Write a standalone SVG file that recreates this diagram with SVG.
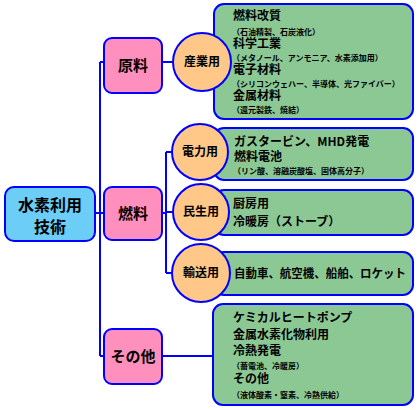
<svg xmlns="http://www.w3.org/2000/svg" width="419" height="410" viewBox="0 0 419 410">
<style>
.ln{stroke:#0000FF;stroke-width:2;fill:none}
.main{fill:#6CCDF7;stroke:#0000FF;stroke-width:2}
.cat{fill:#FF8FBC;stroke:#0000FF;stroke-width:2}
.cir{fill:#FFC788;stroke:#0000FF;stroke-width:2}
.box{fill:#8CC893;stroke:#0000FF;stroke-width:2}
text{font-family:"Noto Sans CJK JP","Noto Sans CJK SC",sans-serif;fill:#000;font-weight:bold}
.big{font-size:16px;text-anchor:middle}
.cl{font-size:15px;text-anchor:middle}
.cc{font-size:12px;text-anchor:middle}
.t{font-size:12px}
.s{font-size:8px}
</style>
<g id="connectors">
<path class="ln" d="M95,213H100M100,62V356M100,62H104M100,213H104M100,356H104"/>
<path class="ln" d="M162,62H173"/>
<path class="ln" d="M162,213H166M166,152V273M166,152H172M166,212H172M166,273H172"/>
<path class="ln" d="M162,356H213"/>
</g>
<g id="box-sangyo"><rect class="box" x="214" y="4" width="199" height="115" rx="10"/>
<text class="t" x="233" y="20">燃料改質</text>
<text class="s" x="232" y="35">（石油精製、石炭液化）</text>
<text class="t" x="233" y="48">科学工業</text>
<text class="s" x="232" y="61">（メタノール、アンモニア、水素添加用）</text>
<text class="t" x="233" y="74">電子材料</text>
<text class="s" x="232" y="87">（シリコンウェハー、半導体、光ファイバー）</text>
<text class="t" x="233" y="100">金属材料</text>
<text class="s" x="232" y="113">（還元製鉄、焼結）</text>
</g>
<g id="box-denryoku"><rect class="box" x="214" y="128" width="199" height="52" rx="10"/>
<text class="t" x="234" y="146">ガスタービン、MHD発電</text>
<text class="t" x="234" y="161">燃料電池</text>
<text class="s" x="233" y="174">（リン酸、溶融炭酸塩、固体高分子）</text>
</g>
<g id="box-minsei"><rect class="box" x="214" y="190" width="199" height="45" rx="10"/>
<text class="t" x="233" y="208">厨房用</text>
<text class="t" x="233" y="226">冷暖房（ストーブ）</text>
</g>
<g id="box-yuso"><rect class="box" x="214" y="252" width="199" height="43" rx="10"/>
<text class="t" x="234" y="278" textLength="172" lengthAdjust="spacingAndGlyphs">自動車、航空機、船舶、ロケット</text>
</g>
<g id="box-sonota"><rect class="box" x="213" y="304" width="200" height="101" rx="10"/>
<text class="t" x="233" y="322">ケミカルヒートポンプ</text>
<text class="t" x="233" y="339">金属水素化物利用</text>
<text class="t" x="233" y="355">冷熱発電</text>
<text class="s" x="232" y="369">（蓄電池、冷暖房）</text>
<text class="t" x="233" y="383">その他</text>
<text class="s" x="232" y="398">（液体酸素・窒素、冷熱供給）</text>
</g>
<g id="main"><rect class="main" x="5" y="187" width="90" height="54" rx="9"/>
<text class="big" x="50" y="211">水素利用</text>
<text class="big" x="50" y="233">技術</text>
</g>
<g id="genryo"><rect class="cat" x="104" y="38" width="58" height="55" rx="8"/>
<text class="cl" x="133" y="71">原料</text></g>
<g id="nenryo"><rect class="cat" x="104" y="187" width="58" height="53" rx="8"/>
<text class="cl" x="133" y="219">燃料</text></g>
<g id="sonota"><rect class="cat" x="104" y="329" width="58" height="55" rx="8"/>
<text class="cl" x="133" y="362">その他</text></g>
<g id="sangyo"><circle class="cir" cx="202" cy="62" r="29"/><text class="cc" x="202" y="66">産業用</text></g>
<g id="denryoku"><circle class="cir" cx="200" cy="152" r="28"/><text class="cc" x="200" y="156">電力用</text></g>
<g id="minsei"><circle class="cir" cx="201" cy="212" r="28"/><text class="cc" x="201" y="216">民生用</text></g>
<g id="yuso"><circle class="cir" cx="201" cy="273" r="29"/><text class="cc" x="201" y="277">輸送用</text></g>
</svg>
